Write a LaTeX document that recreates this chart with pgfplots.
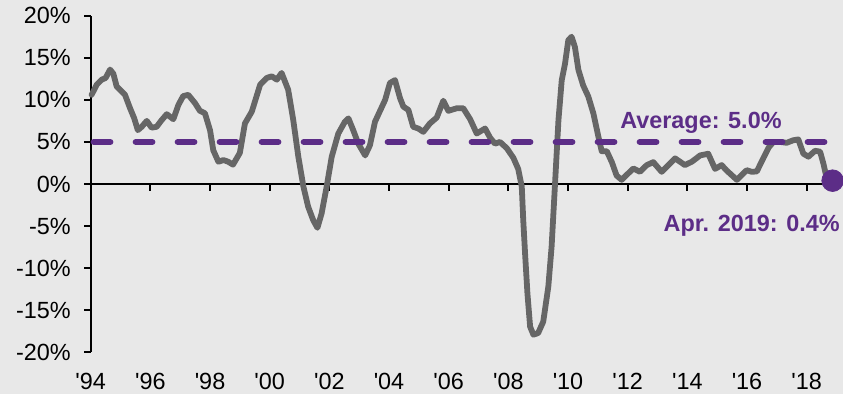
\documentclass[border=0pt]{standalone}
\usepackage{fontspec}
\setmainfont{Liberation Sans}[Ligatures=TeXOff]
\usepackage{pgfplots}
\pgfplotsset{compat=1.18}
\usepackage{pgfplotstable}
\definecolor{bgc}{RGB}{232,232,232}
\definecolor{purp}{RGB}{92,45,135}
\definecolor{lgray}{RGB}{102,102,102}
% x = years since Jan 1994
\pgfplotstableread{
x y
0.03 10.6
0.20 11.8
0.37 12.4
0.50 12.6
0.65 13.6
0.76 13.1
0.87 11.6
1.04 11.0
1.15 10.6
1.32 9.0
1.46 7.8
1.58 6.4
1.71 6.8
1.88 7.5
2.04 6.7
2.21 6.8
2.38 7.6
2.55 8.3
2.77 7.7
2.94 9.4
3.10 10.45
3.27 10.6
3.50 9.6
3.66 8.7
3.83 8.4
4.00 6.4
4.11 4.0
4.28 2.65
4.45 2.85
4.61 2.65
4.77 2.3
5.00 3.7
5.17 7.2
5.40 8.6
5.68 11.8
5.90 12.6
6.07 12.8
6.24 12.4
6.40 13.2
6.62 11.2
6.79 7.6
6.96 3.25
7.13 -0.3
7.29 -2.7
7.46 -4.3
7.60 -5.2
7.74 -3.5
7.91 -0.3
8.08 3.25
8.30 6.0
8.52 7.4
8.64 7.8
8.80 6.4
8.97 4.8
9.20 3.4
9.36 4.6
9.53 7.4
9.70 8.7
9.87 10.0
10.03 12.0
10.20 12.35
10.37 10.2
10.48 9.2
10.65 8.8
10.81 6.8
10.98 6.6
11.15 6.2
11.37 7.2
11.60 7.9
11.82 9.9
11.99 8.7
12.27 9.0
12.49 9.0
12.72 7.7
12.94 6.0
13.22 6.6
13.39 5.5
13.55 4.8
13.72 5.0
13.95 4.25
14.17 3.1
14.33 1.8
14.45 -0.3
14.50 -4.3
14.56 -8.2
14.64 -13.0
14.73 -16.95
14.84 -17.9
15.00 -17.7
15.17 -16.35
15.34 -12.2
15.45 -7.45
15.56 -0.3
15.68 7.6
15.79 12.35
15.90 14.3
16.01 17.1
16.12 17.5
16.23 16.3
16.35 13.55
16.51 11.7
16.68 10.4
16.85 8.4
17.02 5.6
17.13 3.9
17.30 3.9
17.47 2.6
17.63 1.0
17.80 0.5
17.97 1.1
18.19 1.85
18.41 1.45
18.64 2.25
18.86 2.6
19.14 1.45
19.31 2.05
19.59 3.05
19.92 2.25
20.15 2.65
20.43 3.4
20.70 3.6
20.93 1.8
21.15 2.25
21.32 1.6
21.49 1.05
21.66 0.5
21.82 1.05
21.99 1.65
22.16 1.45
22.33 1.5
22.55 3.1
22.72 4.3
22.88 5.0
23.11 5.0
23.33 4.9
23.55 5.2
23.72 5.3
23.89 3.6
24.06 3.25
24.28 3.95
24.45 3.85
24.56 2.45
24.67 0.7
24.87 0.4
}\growth
\begin{document}
\begin{tikzpicture}[font=\fontsize{11.7}{14}\selectfont]
\fill[bgc] (-45.35pt,-20.8pt) rectangle (376.15pt,176.2pt);
\begin{axis}[
  at={(0pt,0pt)}, anchor=south west,
  scale only axis, width=372.9pt, height=168.35pt,
  xmin=0, xmax=25, ymin=-20, ymax=20,
  axis x line=middle, axis y line=left,
  axis line style={line width=1pt, black, -},
  hide obscured x ticks=false,
  xtick={0,2,...,24},
  xticklabels={'94,'96,'98,'00,'02,'04,'06,'08,'10,'12,'14,'16,'18},
  ytick={-20,-15,...,20},
  yticklabels={-20\%,-15\%,-10\%,-5\%,0\%,5\%,10\%,15\%,20\%},
  tick align=outside, major tick length=3.3pt,
  tick style={line width=1pt, black},
  xticklabel style={anchor=base, yshift=-99.2pt},
  yticklabel style={xshift=-3.2pt},
  clip=false,
]
\addplot[lgray, line width=2.9pt, line join=round, line cap=round] table[x=x,y=y] {\growth};
\addplot[purp, line width=3pt, line cap=round, dash pattern=on 8.35pt off 12.65pt] coordinates {(0.1,5) (24.6,5)};
\addplot[only marks, mark=*, mark size=5.4pt, purp, mark options={draw=purp, fill=purp}] coordinates {(24.87,0.4)};
\node[anchor=base west, inner sep=0pt, text=purp, font=\fontsize{11.7}{14}\selectfont\bfseries] at (axis cs:17.74,6.6) {Average: 5.0\%};
\node[anchor=base east, inner sep=0pt, text=purp, font=\fontsize{11.7}{14}\selectfont\bfseries] at (axis cs:25.12,-5.66) {Apr. 2019: 0.4\%};
\end{axis}
\pgfresetboundingbox
\path (-45.35pt,-20.8pt) rectangle (376.15pt,176.2pt);
\end{tikzpicture}
\end{document}
